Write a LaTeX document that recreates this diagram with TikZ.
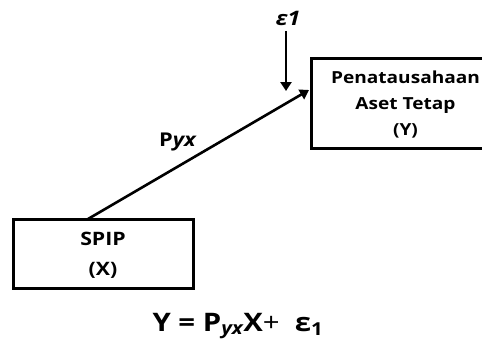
\documentclass[tikz,border=0pt]{standalone}
\usepackage{fontspec}
\setmainfont[FakeStretch=1.15]{Open Sans}
\usetikzlibrary{arrows.meta}
\begin{document}
\begin{tikzpicture}[x=1pt,y=-1pt,
  boxstyle/.style={draw=black,line width=3pt,inner sep=0pt},
  lbl/.style={font=\bfseries\fontsize{18.5}{30}\selectfont,align=center},
  conn/.style={line width=2.6pt,-{Triangle[length=9pt,width=11pt]}}]
\useasboundingbox (0,0) rectangle (482,340);
\node[boxstyle,minimum width=180pt,minimum height=69pt] (x) at (103,253.5) {};
\node[lbl] (xt) at (103,255) {SPIP\\(X)};
\draw[boxstyle] (311,58) rectangle (500,148);
\node[lbl,font=\bfseries\fontsize{16.6}{26}\selectfont] (yt) at (405.5,105) {Penatausahaan\\Aset Tetap\\(Y)};
\coordinate (xa) at (88,219);
\coordinate (ya) at (309,90);
\draw[conn] (xa) -- (ya);
\node[lbl,font=\bfseries\fontsize{19}{20}\selectfont] (p) at (178,142) {P\textit{yx}};
\node[font=\bfseries\itshape\fontsize{20}{20}\selectfont] (e) at (288,18) {ε1};
\coordinate (eb) at (286,91);
\draw[conn] (e.south -| eb) ++(0,2) -- (eb);
\node[font=\bfseries\fontsize{25.5}{26}\selectfont] (eq) at (238,326) {Y = P\textsubscript{\itshape yx}X\mdseries+ \ \bfseries ε\textsubscript{1}};
\end{tikzpicture}
\end{document}
